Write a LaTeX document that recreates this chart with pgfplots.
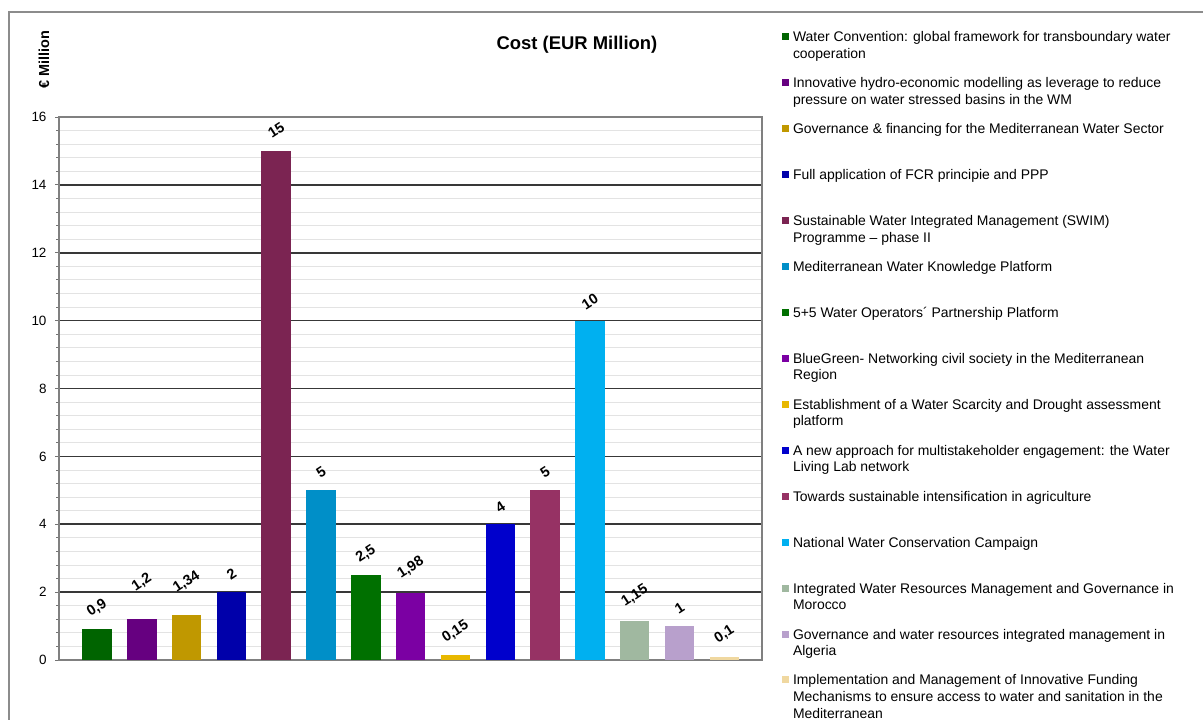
\documentclass[border=0pt]{standalone}
\usepackage{pgfplots}
\pgfplotsset{compat=1.18}
\usepackage{fontspec}
\setmainfont{Liberation Sans}
\definecolor{c1}{RGB}{0,100,0}
\definecolor{c2}{RGB}{102,0,128}
\definecolor{c3}{RGB}{192,152,0}
\definecolor{c4}{RGB}{0,0,170}
\definecolor{c5}{RGB}{123,36,82}
\definecolor{c6}{RGB}{0,143,200}
\definecolor{c7}{RGB}{0,112,0}
\definecolor{c8}{RGB}{123,0,163}
\definecolor{c9}{RGB}{232,184,0}
\definecolor{c10}{RGB}{0,0,204}
\definecolor{c11}{RGB}{150,50,100}
\definecolor{c12}{RGB}{0,176,240}
\definecolor{c13}{RGB}{160,184,160}
\definecolor{c14}{RGB}{184,160,204}
\definecolor{c15}{RGB}{240,216,160}
\newcommand\legtext[1]{\rule[-33.95bp]{0pt}{45.95bp}\parbox[t]{420bp}{#1}}
\pgfplotsset{lab/.style={nodes near coords, nodes near coords style={yshift=#1, rotate=33}}}
\begin{document}
\begin{tikzpicture}
\draw[black!45, line width=1.2bp] (9bp,0bp) -- (9bp,708bp) -- (1203bp,708bp);
\begin{axis}[
  at={(59bp,60bp)}, anchor=south west,
  scale only axis, width=703bp, height=543bp,
  xmin=-0.848, xmax=14.84, ymin=0, ymax=16,
  xtick=\empty,
  ytick={0,2,...,16},
  minor y tick num=4,
  ytick pos=left,
  ymajorgrids, yminorgrids,
  major grid style={black!78, line width=1.6bp},
  minor grid style={black!11, line width=0.8bp},
  axis line style={draw=black!50, line width=1.2bp},
  tick style={black!55, line width=0.8bp},
  major tick length=4bp, minor tick length=3bp,
  tick align=outside,
  ybar, bar width=29.5bp, bar shift=0pt,
  yticklabel style={font=\fontsize{13.5}{16}\selectfont, /pgf/number format/assume math mode=true, xshift=-5bp},
  every node near coord/.append style={font=\bfseries\fontsize{14.5}{17}\selectfont, anchor=center, /pgf/number format/use comma, /pgf/number format/assume math mode=true, text=black},
  legend style={at={(1.02845,1.1608)}, anchor=north west, draw=none, fill=none,
    font=\fontsize{14}{16.7}\selectfont, inner sep=0pt, outer sep=0pt,
    row sep=0pt, column sep=4bp, nodes={inner sep=0pt, outer sep=0pt, text depth=},
    cells={anchor=base west}},
  legend image code/.code={\path (0bp,0bp); \fill[#1] (0bp,1.5bp) rectangle (7bp,8.5bp);},
]
\addplot[fill=c1, draw=none, lab=21.5bp] coordinates {(0,0.9)};
\addlegendentry{\legtext{Water Convention: global framework for transboundary water\\cooperation}}
\addplot[fill=c2, draw=none, lab=37bp] coordinates {(1,1.2)};
\addlegendentry{\legtext{Innovative hydro-economic modelling as leverage to reduce\\pressure on water stressed basins in the WM}}
\addplot[fill=c3, draw=none, lab=32.5bp] coordinates {(2,1.34)};
\addlegendentry{\legtext{Governance \& financing for the Mediterranean Water Sector}}
\addplot[fill=c4, draw=none, lab=18bp] coordinates {(3,2)};
\addlegendentry{\legtext{Full application of FCR principie and PPP}}
\addplot[fill=c5, draw=none, lab=21bp] coordinates {(4,15)};
\addlegendentry{\legtext{Sustainable Water Integrated Management (SWIM)\\Programme – phase II}}
\addplot[fill=c6, draw=none, lab=18bp] coordinates {(5,5)};
\addlegendentry{\legtext{Mediterranean Water Knowledge Platform}}
\addplot[fill=c7, draw=none, lab=21bp] coordinates {(6,2.5)};
\addlegendentry{\legtext{5+5 Water Operators´ Partnership Platform}}
\addplot[fill=c8, draw=none, lab=25bp] coordinates {(7,1.98)};
\addlegendentry{\legtext{BlueGreen- Networking civil society in the Mediterranean\\Region}}
\addplot[fill=c9, draw=none, lab=23bp] coordinates {(8,0.15)};
\addlegendentry{\legtext{Establishment of a Water Scarcity and Drought assessment\\platform}}
\addplot[fill=c10, draw=none, lab=17bp] coordinates {(9,4)};
\addlegendentry{\legtext{A new approach for multistakeholder engagement: the Water\\Living Lab network}}
\addplot[fill=c11, draw=none, lab=18bp] coordinates {(10,5)};
\addlegendentry{\legtext{Towards sustainable intensification in agriculture}}
\addplot[fill=c12, draw=none, lab=19bp] coordinates {(11,10)};
\addlegendentry{\legtext{National Water Conservation Campaign}}
\addplot[fill=c13, draw=none, lab=25bp] coordinates {(12,1.15)};
\addlegendentry{\legtext{Integrated Water Resources Management and Governance in\\Morocco}}
\addplot[fill=c14, draw=none, lab=18bp] coordinates {(13,1)};
\addlegendentry{\legtext{Governance and water resources integrated management in\\Algeria}}
\addplot[fill=c15, draw=none, lab=22bp] coordinates {(14,0.1)};
\addlegendentry{\legtext{Implementation and Management of Innovative Funding\\Mechanisms to ensure access to water and sanitation in the\\Mediterranean}}
\end{axis}
\node[font=\bfseries\fontsize{18.5}{22}\selectfont] at (577bp,675bp) {Cost (EUR Million)};
\node[rotate=90, font=\bfseries\fontsize{14.5}{17}\selectfont] at (44bp,660bp) {€ Million};
\pgfresetboundingbox
\useasboundingbox (0bp,0bp) rectangle (1203bp,720bp);
\end{tikzpicture}
\end{document}
